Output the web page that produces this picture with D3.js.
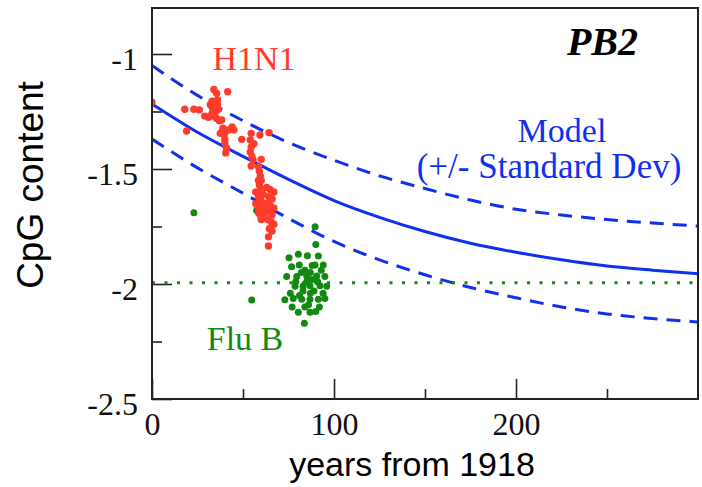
<!DOCTYPE html>
<html>
<head>
<meta charset="utf-8">
<script src="https://cdn.jsdelivr.net/npm/d3@7"></script>
<style>
  body { margin: 0; background: #fff; }
  svg { display: block; }
</style>
</head>
<body>
<svg id="chart"></svg>
<script>
// model curve (years from 1918 -> CpG content)
var modelYears = [0, 25, 50, 75, 100, 125, 150, 175, 200, 225, 250, 275, 300];
var modelMean  = [-1.217, -1.34, -1.445, -1.545, -1.637, -1.71, -1.772, -1.823, -1.862, -1.895, -1.922, -1.94, -1.955];
var modelUpper = [-1.05, -1.18, -1.29, -1.385, -1.462, -1.53, -1.585, -1.635, -1.675, -1.70, -1.72, -1.735, -1.748];
var modelLower = [-1.37, -1.495, -1.605, -1.715, -1.815, -1.895, -1.96, -2.015, -2.06, -2.10, -2.13, -2.15, -2.165];

// Flu B equilibrium level (dotted)
var fluBLevelYears = [0, 300];
var fluBLevel = -1.995;

// H1N1 sequences
var h1n1Years = [0, 18, 19, 23, 26, 29, 31, 33, 34, 35.5, 41.6,
  32, 33, 34, 35, 36, 33.5, 35, 36.5, 34, 35.5, 37, 33, 36,
  38.3, 39, 37.5, 40, 40, 40, 41, 40.5, 44, 45, 42, 38.5, 49.3,
  54.5, 54, 54.5, 54, 55, 54.5, 56, 55.5, 59.3, 64.3, 60,
  58.5, 59, 59.5, 58.5, 59, 60, 59, 58.5, 59.5, 60, 58, 59, 60.5, 58.5, 59.5, 60, 61, 61, 60, 57, 57,
  63, 65, 67, 64, 66, 63, 65, 67, 64, 66, 63.5, 65.5, 67, 64.5, 66, 62, 62,
  64, 64];
var h1n1CpG = [-1.21, -1.24, -1.335, -1.24, -1.243, -1.27, -1.275, -1.26, -1.154, -1.171, -1.164,
  -1.22, -1.23, -1.215, -1.225, -1.22, -1.245, -1.25, -1.24, -1.27, -1.28, -1.29, -1.205, -1.2,
  -1.287, -1.323, -1.345, -1.345, -1.37, -1.387, -1.41, -1.43, -1.317, -1.33, -1.33, -1.34, -1.371,
  -1.345, -1.374, -1.404, -1.426, -1.447, -1.487, -1.39, -1.46, -1.352, -1.342, -1.458,
  -1.49, -1.51, -1.53, -1.55, -1.57, -1.59, -1.6, -1.62, -1.63, -1.64, -1.66, -1.67, -1.68, -1.69, -1.7, -1.72, -1.61, -1.65, -1.55, -1.6, -1.65,
  -1.58, -1.59, -1.6, -1.62, -1.63, -1.65, -1.66, -1.67, -1.68, -1.7, -1.72, -1.73, -1.74, -1.76, -1.77, -1.7, -1.66,
  -1.795, -1.835];

// Flu B sequences
var fluBYears = [23, 57.5, 54.8,
  89.6, 90, 75.3, 80.4, 85.4, 91.4,
  76.7, 80.9, 89.6, 94.1,
  74, 79.5, 85, 90.5, 95,
  78.6, 83, 86.8, 92.3, 96,
  73, 77.6, 82.3, 86.8, 91.4, 95,
  80.4, 86.8, 83.7,
  84, 87, 88, 85, 83, 89, 91, 87, 82, 93, 86, 92, 77, 84, 90, 79, 88, 94, 76, 81];
var fluBCpG = [-1.69, -1.68, -2.07,
  -1.751, -1.828, -1.886, -1.871, -1.877, -1.878,
  -1.925, -1.917, -1.917, -1.917,
  -1.967, -1.967, -1.965, -1.965, -1.967,
  -2.01, -2.01, -2.008, -2.008, -2.01,
  -2.068, -2.063, -2.066, -2.066, -2.066, -2.063,
  -2.123, -2.123, -2.171,
  -1.94, -1.95, -1.98, -1.99, -2.03, -2.03, -1.99, -2.04, -1.95, -1.94, -2.09, -2.1, -2.1, -2.1, -2.12, -1.99, -1.92, -2.04, -2.04, -2.05];

var xMajor = [0, 100, 200];
var xMinor = [50, 150, 250];
var yMajor = [-2.5, -2, -1.5, -1];
var yMinor = [-2.25, -1.75, -1.25];

var red = "#ff3c2c", green = "#128a12", blue = "#1030f0";

var margin = {top: 8, right: 4, bottom: 88, left: 152},
    width = 702 - margin.left - margin.right,
    height = 487 - margin.top - margin.bottom;

var root = d3.select("#chart").attr("width", 702).attr("height", 487);
var svg = root.append("g")
    .attr("transform", "translate(" + margin.left + "," + margin.top + ")");

var xScale = d3.scaleLinear().domain([0, 300]).range([0, width]);
var yScale = d3.scaleLinear().domain([-2.5, -0.8]).range([height, 0]);

svg.append("clipPath").attr("id", "plotClip")
  .append("rect").attr("width", width).attr("height", height);

// minor ticks first, then majors with labels
svg.append("g")
  .attr("transform", "translate(0," + height + ")")
  .call(d3.axisBottom(xScale).tickValues(xMinor).tickSize(-10).tickFormat(""));
var xAxis_group = svg.append("g")
  .attr("transform", "translate(0," + height + ")")
  .call(d3.axisBottom(xScale).tickValues(xMajor).tickSize(-20).tickPadding(13)
    .tickFormat(function(d) { return String(d); }));

svg.append("g")
  .call(d3.axisLeft(yScale).tickValues(yMinor).tickSize(-10).tickFormat(""));
var yAxis_group = svg.append("g")
  .call(d3.axisLeft(yScale).tickValues(yMajor).tickSize(-20).tickPadding(14)
    .tickFormat(function(d) { return String(d); }));

svg.selectAll(".domain").remove();
svg.selectAll(".tick line").attr("stroke", "#222").attr("stroke-width", 1.6);
svg.selectAll(".tick text")
  .attr("font-family", "'Liberation Serif', 'Times New Roman', serif")
  .attr("font-size", 32)
  .attr("fill", "#111");
yAxis_group.selectAll(".tick text").attr("dy", "0.47em");

// model lines
var plot = svg.append("g").attr("clip-path", "url(#plotClip)");
function modelLine(vals) {
  return d3.line()
    .x(function(d, i) { return xScale(modelYears[i]); })
    .y(function(d) { return yScale(d); })
    .curve(d3.curveMonotoneX)(vals);
}
plot.append("path").attr("d", modelLine(modelUpper))
  .attr("fill", "none").attr("stroke", blue).attr("stroke-width", 3).attr("stroke-dasharray", "14,9");
plot.append("path").attr("d", modelLine(modelLower))
  .attr("fill", "none").attr("stroke", blue).attr("stroke-width", 3).attr("stroke-dasharray", "14,9");
plot.append("path").attr("d", modelLine(modelMean))
  .attr("fill", "none").attr("stroke", blue).attr("stroke-width", 3);

plot.append("path")
  .attr("d", d3.line()
    .x(function(d) { return xScale(d); })
    .y(function() { return yScale(fluBLevel); })(fluBLevelYears))
  .attr("fill", "none").attr("stroke", green).attr("stroke-width", 3)
  .attr("stroke-dasharray", "3,9.5");

// data points
plot.selectAll(".flub")
  .data(fluBYears)
  .enter().append("circle")
    .attr("class", "flub")
    .attr("cx", function(d) { return xScale(d); })
    .attr("cy", function(d, i) { return yScale(fluBCpG[i]); })
    .attr("r", 3.5)
    .style("fill", green);

plot.selectAll(".h1n1")
  .data(h1n1Years)
  .enter().append("circle")
    .attr("class", "h1n1")
    .attr("cx", function(d) { return xScale(d); })
    .attr("cy", function(d, i) { return yScale(h1n1CpG[i]); })
    .attr("r", 3.7)
    .style("fill", red);

// frame
svg.append("rect")
  .attr("width", width).attr("height", height)
  .attr("fill", "none").attr("stroke", "#222").attr("stroke-width", 2);

// annotations
var serif = "'Liberation Serif', 'Times New Roman', serif";
svg.append("text").text("H1N1")
  .attr("x", 254 - margin.left).attr("y", 70 - margin.top)
  .attr("text-anchor", "middle").attr("font-family", serif).attr("font-size", 34).attr("fill", red);
svg.append("text").text("Flu B")
  .attr("x", 245 - margin.left).attr("y", 350 - margin.top)
  .attr("text-anchor", "middle").attr("font-family", serif).attr("font-size", 34).attr("fill", green);
svg.append("text").text("PB2")
  .attr("x", 638 - margin.left).attr("y", 55 - margin.top)
  .attr("text-anchor", "end").attr("font-family", serif).attr("font-size", 40)
  .attr("font-weight", "bold").attr("font-style", "italic").attr("fill", "#000");
svg.append("text").text("Model")
  .attr("x", 562 - margin.left).attr("y", 142 - margin.top)
  .attr("text-anchor", "middle").attr("font-family", serif).attr("font-size", 34).attr("fill", blue);
svg.append("text").text("(+/- Standard Dev)")
  .attr("x", 549 - margin.left).attr("y", 178 - margin.top)
  .attr("text-anchor", "middle").attr("font-family", serif).attr("font-size", 35).attr("fill", blue);

// axis titles
root.append("text").text("years from 1918")
  .attr("x", 412).attr("y", 476)
  .attr("text-anchor", "middle")
  .attr("font-family", "'Liberation Sans', Arial, sans-serif").attr("font-size", 34).attr("fill", "#000");
root.append("text").text("CpG content")
  .attr("transform", "translate(43,185)rotate(-90)")
  .attr("text-anchor", "middle")
  .attr("font-family", "'Liberation Sans', Arial, sans-serif").attr("font-size", 37).attr("fill", "#000");
</script>
</body>
</html>
